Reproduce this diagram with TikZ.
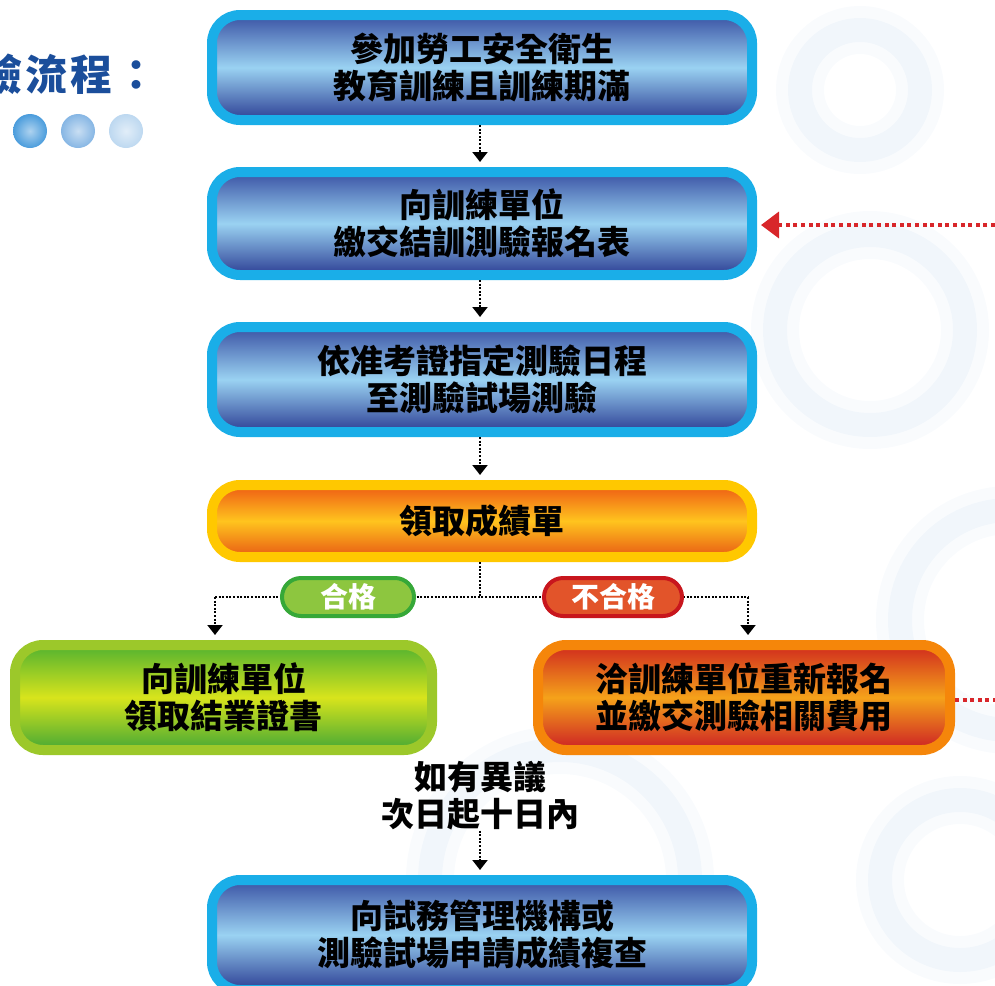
\documentclass[tikz,border=0pt]{standalone}
\usepackage{fontspec}
\setmainfont{Noto Sans CJK TC}
\usetikzlibrary{arrows.meta,shapes.misc}
\definecolor{bluerim}{HTML}{1AAEE8}
\definecolor{bluetop}{HTML}{3A52A4}
\definecolor{bluemid}{HTML}{9AD2F2}
\definecolor{bluebot}{HTML}{2C3E94}
\definecolor{orrim}{HTML}{FFC800}
\definecolor{ortop}{HTML}{EE5A14}
\definecolor{ormid}{HTML}{FFC41E}
\definecolor{orbot}{HTML}{E85A14}
\definecolor{grrim}{HTML}{9CC82A}
\definecolor{grtop}{HTML}{52B230}
\definecolor{grmid}{HTML}{D8E41C}
\definecolor{grbot}{HTML}{45A835}
\definecolor{rdrim}{HTML}{F5860A}
\definecolor{rdtop}{HTML}{D02A1E}
\definecolor{rdmid}{HTML}{F5A21A}
\definecolor{rdbot}{HTML}{CC1F25}
\definecolor{titleblue}{HTML}{1B4E9B}
\definecolor{dotred}{HTML}{D8262A}
\definecolor{pillgreen}{HTML}{8DC63F}
\definecolor{pillgreenrim}{HTML}{36A838}
\definecolor{pillred}{HTML}{E2542A}
\definecolor{pillredrim}{HTML}{C8161D}
\definecolor{bgblue}{HTML}{A9C8E6}
\definecolor{ball1}{HTML}{4A9CDC}
\definecolor{ball2}{HTML}{86B6E4}
\definecolor{ball3}{HTML}{BDD8F0}
\tikzset{
  boxbase/.style={rounded corners=28pt, line width=10pt, inner sep=0pt,
    align=center, font=\bfseries\fontsize{33}{37}\selectfont, text=black},
  bluebox/.style={boxbase, draw=bluerim, top color=bluetop, bottom color=bluebot, middle color=bluemid},
  orbox/.style={boxbase, draw=orrim, top color=ortop, bottom color=orbot, middle color=ormid},
  grbox/.style={boxbase, draw=grrim, top color=grtop, bottom color=grbot, middle color=grmid},
  rdbox/.style={boxbase, draw=rdrim, top color=rdtop, bottom color=rdbot, middle color=rdmid},
  pill/.style={rounded rectangle, line width=4pt, inner sep=0pt, minimum width=132pt,
    minimum height=38pt, text=white, font=\bfseries\fontsize{28}{30}\selectfont},
  dotline/.style={black, line width=2pt, dash pattern=on 2pt off 1.6pt},
  darr/.style={dotline, -{Triangle[width=15pt,length=10pt]}, shorten >=5pt},
  rdot/.style={dotred, line width=3.5pt, dash pattern=on 4pt off 3.6pt},
  rarr/.style={rdot, -{Triangle[width=26pt,length=18pt]}, shorten >=4pt},
  bgwide/.style={bgblue, opacity=0.07, line width=48pt},
  bgring/.style={bgblue, opacity=0.10, line width=24pt},
}
\begin{document}
\begin{tikzpicture}[x=1pt,y=-1pt]
\useasboundingbox (0,0) rectangle (995,985);
\begin{scope}
\clip (0,0) rectangle (995,985);
% faint background gears
\foreach \cx/\cy/\rr in {870/330/95, 1010/620/110, 960/880/80, 860/90/60, 560/880/130}{
  \draw[bgwide] (\cx,\cy) circle (\rr);
  \draw[bgring] (\cx,\cy) circle (\rr);
}
% title
\node[anchor=east, inner sep=0pt, text=titleblue, font=\bfseries\fontsize{42}{46}\selectfont] (title) at (158,74) {驗\kern3pt流\kern3pt程\kern3pt：};
\shade[inner color=ball1!45!white, outer color=ball1] (30,131) circle (17);
\shade[inner color=ball2!45!white, outer color=ball2] (78,131) circle (17);
\shade[inner color=ball3!45!white, outer color=ball3] (126,131) circle (17);
% boxes
\node[bluebox, minimum width=540pt, minimum height=105pt] (b1) at (482,67.5) {參加勞工安全衛生\\教育訓練且訓練期滿};
\node[bluebox, minimum width=540pt, minimum height=103pt] (b2) at (482,223.5) {向訓練單位\\繳交結訓測驗報名表};
\node[bluebox, minimum width=540pt, minimum height=105pt] (b3) at (482,379.5) {依准考證指定測驗日程\\至測驗試場測驗};
\node[orbox, minimum width=540pt, minimum height=72pt] (b4) at (482,521) {領取成績單};
\node[grbox, minimum width=417pt, minimum height=105pt] (g) at (223.5,697.5) {向訓練單位\\領取結業證書};
\node[rdbox, minimum width=412pt, minimum height=105pt] (r) at (744,697.5) {洽訓練單位重新報名\\並繳交測驗相關費用};
\node[bluebox, minimum width=540pt, minimum height=110pt] (b5) at (482,935) {向試務管理機構或\\測驗試場申請成績複查};
\node[align=center, inner sep=0pt, font=\bfseries\fontsize{33}{37}\selectfont] (note) at (480,796) {如有異議\\次日起十日內};
% connectors
\draw[darr] (b1.south -| 480,0) -- (b2.north -| 480,0);
\draw[darr] (b2.south -| 480,0) -- (b3.north -| 480,0);
\draw[darr] (b3.south -| 480,0) -- (b4.north -| 480,0);
\coordinate (j) at (480,597);
\coordinate (jl) at (215,597);
\coordinate (jr) at (748,597);
\draw[dotline] (b4.south -| j) -- (j);
\draw[dotline] (jl) -- (jr);
\draw[darr] (jl) -- (jl |- g.north);
\draw[darr] (jr) -- (jr |- r.north);
\node[pill, draw=pillgreenrim, fill=pillgreen] (pass) at (348,597) {合格};
\node[pill, draw=pillredrim, fill=pillred, minimum width=138pt] (fail) at (613,597) {不合格};
\draw[darr] (note.south -| 480,0) -- (b5.north -| 480,0);
\coordinate (rin) at (995,225);
\coordinate (rout) at (995,700);
\draw[rarr] (rin) -- (b2.east |- rin);
\draw[rdot] (r.east |- rout) -- (rout);
\end{scope}
\end{tikzpicture}
\end{document}
